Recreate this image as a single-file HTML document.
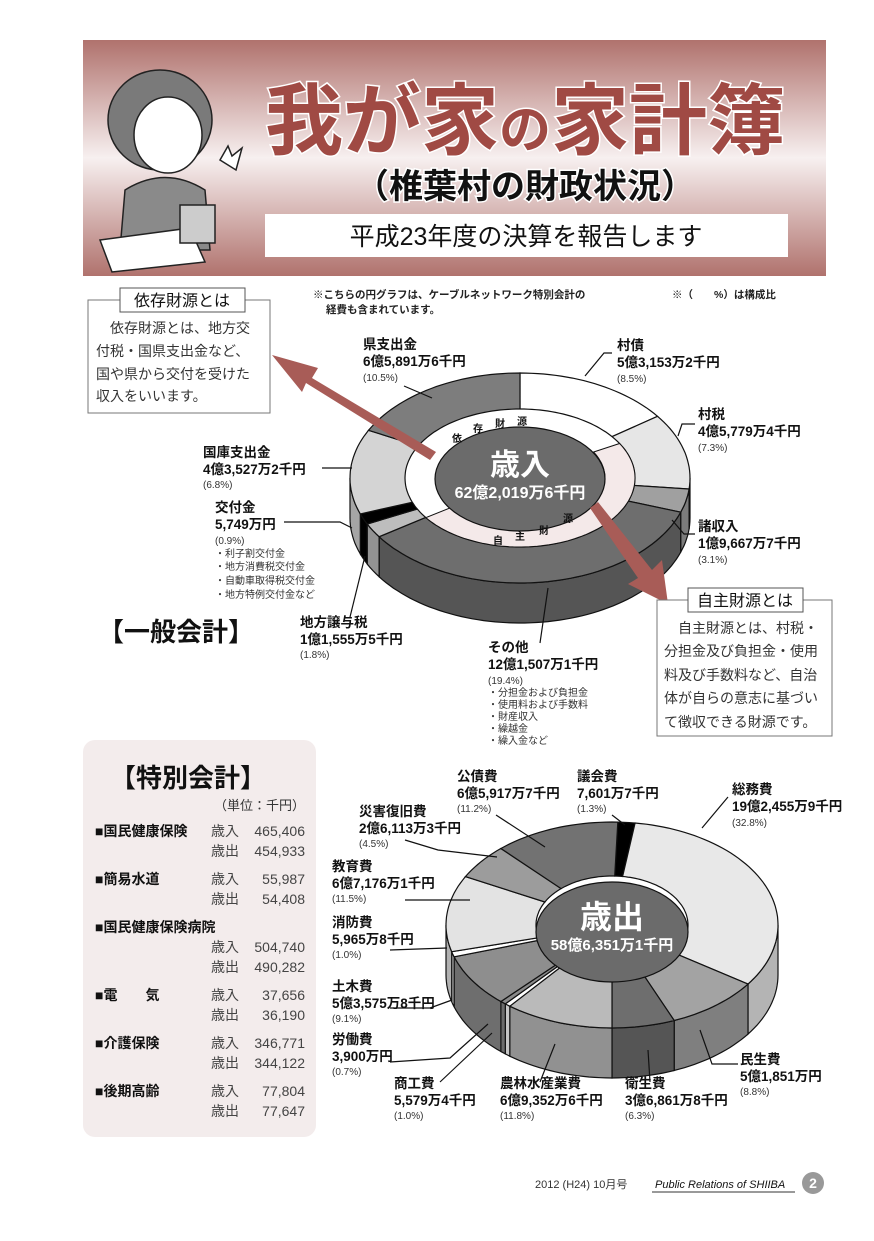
<!DOCTYPE html>
<html><head><meta charset="utf-8"><style>
html,body{margin:0;padding:0;background:#fff}
svg text{font-family:"Liberation Sans","Noto Sans CJK JP",sans-serif}
.b{font-weight:bold;font-size:13.5px;fill:#111}
.p{font-size:10px;fill:#333}
.s{font-size:10.5px;fill:#222}
.t{font-size:14px;fill:#333}
.tb{font-size:14px;fill:#111;font-weight:bold}
</style></head><body>
<svg id="sv" width="874" height="1236" viewBox="0 0 874 1236" xmlns="http://www.w3.org/2000/svg">
<defs>
<linearGradient id="hg" x1="0" y1="0" x2="0" y2="1">
<stop offset="0" stop-color="#b0726d"/><stop offset="0.5" stop-color="#f7f0f0"/><stop offset="1" stop-color="#b0726d"/>
</linearGradient>
</defs>
<!-- header -->
<rect x="83" y="40" width="743" height="236" fill="url(#hg)"/>
<g stroke="#222" stroke-width="1.5">
<ellipse cx="160" cy="120" rx="52" ry="50" fill="#7a7a7a"/>
<ellipse cx="168" cy="135" rx="34" ry="38" fill="#fff"/>
<path d="M120 250 L125 190 Q165 165 205 190 L210 250 Z" fill="#8a8a8a"/>
<path d="M100 240 L190 228 L205 262 L112 272 Z" fill="#fff"/>
<rect x="180" y="205" width="35" height="38" fill="#ccc"/>
<path d="M220 160 l8 -14 l4 10 l10 -8 l-6 22 z" fill="#fff"/>
</g>
<text x="525" y="148" text-anchor="middle" font-size="78" font-weight="bold" fill="#a04a44" stroke="#fff" stroke-width="3" paint-order="stroke">我が家<tspan font-size="52">の</tspan>家計簿</text>
<text x="525" y="198" text-anchor="middle" font-size="34" font-weight="bold" fill="#111" stroke="#fff" stroke-width="3" paint-order="stroke">（椎葉村の財政状況）</text>
<rect x="265" y="214" width="523" height="43" fill="#fff"/>
<text x="526" y="245" text-anchor="middle" font-size="25" fill="#111">平成23年度の決算を報告します</text>

<!-- notes -->
<text x="313" y="298" class="s" font-weight="bold">※こちらの円グラフは、ケーブルネットワーク特別会計の</text>
<text x="326" y="313" class="s" font-weight="bold">経費も含まれています。</text>
<text x="672" y="298" class="s" font-weight="bold">※（　　%）は構成比</text>

<!-- 依存財源とは -->
<rect x="88" y="300" width="182" height="113" fill="#fff" stroke="#777"/>
<rect x="120" y="288" width="125" height="24" fill="#fff" stroke="#555"/>
<text x="182" y="306" text-anchor="middle" font-size="16" fill="#111">依存財源とは</text>
<text x="96" y="333" class="t">　依存財源とは、地方交</text>
<text x="96" y="356" class="t">付税・国県支出金など、</text>
<text x="96" y="379" class="t">国や県から交付を受けた</text>
<text x="96" y="401" class="t">収入をいいます。</text>

<g id="pies"></g>

<!-- revenue labels -->
<g stroke="#111" stroke-width="1.2" fill="none">
<path d="M404 386 L432 398"/>
<path d="M612 353 L604 353 L585 376"/>
<path d="M695 424 L682 424 L678 436"/>
<path d="M695 534 L684 534 L672 520"/>
<path d="M322 468 L352 468"/>
<path d="M284 522 L340 522 L352 528"/>
<path d="M350 617 L365 556"/>
<path d="M540 643 L548 588"/>
</g>
<text x="363" y="349" class="b">県支出金</text><text x="363" y="366" class="b">6億5,891万6千円</text><text x="363" y="381" class="p">(10.5%)</text>
<text x="617" y="350" class="b">村債</text><text x="617" y="367" class="b">5億3,153万2千円</text><text x="617" y="382" class="p">(8.5%)</text>
<text x="698" y="419" class="b">村税</text><text x="698" y="436" class="b">4億5,779万4千円</text><text x="698" y="451" class="p">(7.3%)</text>
<text x="698" y="531" class="b">諸収入</text><text x="698" y="548" class="b">1億9,667万7千円</text><text x="698" y="563" class="p">(3.1%)</text>
<text x="203" y="457" class="b">国庫支出金</text><text x="203" y="474" class="b">4億3,527万2千円</text><text x="203" y="488" class="p">(6.8%)</text>
<text x="215" y="512" class="b">交付金</text><text x="215" y="529" class="b">5,749万円</text><text x="215" y="544" class="p">(0.9%)</text>
<text x="215" y="557" class="p">・利子割交付金</text><text x="215" y="570" class="p">・地方消費税交付金</text><text x="215" y="584" class="p">・自動車取得税交付金</text><text x="215" y="598" class="p">・地方特例交付金など</text>
<text x="300" y="627" class="b">地方譲与税</text><text x="300" y="644" class="b">1億1,555万5千円</text><text x="300" y="658" class="p">(1.8%)</text>
<text x="488" y="652" class="b">その他</text><text x="488" y="669" class="b">12億1,507万1千円</text><text x="488" y="684" class="p">(19.4%)</text>
<text x="488" y="696" class="p">・分担金および負担金</text><text x="488" y="708" class="p">・使用料および手数料</text><text x="488" y="720" class="p">・財産収入</text><text x="488" y="732" class="p">・繰越金</text><text x="488" y="744" class="p">・繰入金など</text>
<text x="98" y="641" font-size="26" font-weight="bold" fill="#111">【一般会計】</text>

<!-- 自主財源とは -->
<rect x="657" y="600" width="175" height="136" fill="#fff" stroke="#777"/>
<rect x="688" y="588" width="115" height="24" fill="#fff" stroke="#555"/>
<text x="745" y="606" text-anchor="middle" font-size="16" fill="#111">自主財源とは</text>
<text x="664" y="633" class="t">　自主財源とは、村税・</text>
<text x="664" y="656" class="t">分担金及び負担金・使用</text>
<text x="664" y="680" class="t">料及び手数料など、自治</text>
<text x="664" y="703" class="t">体が自らの意志に基づい</text>
<text x="664" y="727" class="t">て徴収できる財源です。</text>

<!-- special accounts -->
<rect x="83" y="740" width="233" height="397" rx="12" fill="#f3ecec"/>
<text x="110" y="787" font-size="26" font-weight="bold" fill="#111">【特別会計】</text>
<text x="305" y="810" text-anchor="end" font-size="13" fill="#333">（単位：千円）</text>
<text x="95" y="836" class="tb">■国民健康保険</text>
<text x="95" y="884" class="tb">■簡易水道</text>
<text x="95" y="932" class="tb">■国民健康保険病院</text>
<text x="95" y="1000" class="tb">■電　　気</text>
<text x="95" y="1048" class="tb">■介護保険</text>
<text x="95" y="1096" class="tb">■後期高齢</text>
<g id="tbl"></g>

<!-- expenditure labels -->
<g stroke="#111" stroke-width="1.2" fill="none">
<path d="M496 815 L545 847"/>
<path d="M612 815 L625 825"/>
<path d="M728 797 L702 828"/>
<path d="M405 840 L438 850 L497 857"/>
<path d="M405 900 L470 900"/>
<path d="M390 950 L447 948"/>
<path d="M390 1008 L430 1008 L452 1000"/>
<path d="M390 1062 L450 1058 L488 1024"/>
<path d="M440 1082 L492 1033"/>
<path d="M540 1082 L555 1044"/>
<path d="M650 1082 L648 1050"/>
<path d="M738 1064 L712 1064 L700 1030"/>
</g>
<text x="457" y="781" class="b">公債費</text><text x="457" y="798" class="b">6億5,917万7千円</text><text x="457" y="812" class="p">(11.2%)</text>
<text x="577" y="781" class="b">議会費</text><text x="577" y="798" class="b">7,601万7千円</text><text x="577" y="812" class="p">(1.3%)</text>
<text x="732" y="794" class="b">総務費</text><text x="732" y="811" class="b">19億2,455万9千円</text><text x="732" y="826" class="p">(32.8%)</text>
<text x="359" y="816" class="b">災害復旧費</text><text x="359" y="833" class="b">2億6,113万3千円</text><text x="359" y="847" class="p">(4.5%)</text>
<text x="332" y="871" class="b">教育費</text><text x="332" y="888" class="b">6億7,176万1千円</text><text x="332" y="902" class="p">(11.5%)</text>
<text x="332" y="927" class="b">消防費</text><text x="332" y="944" class="b">5,965万8千円</text><text x="332" y="958" class="p">(1.0%)</text>
<text x="332" y="991" class="b">土木費</text><text x="332" y="1008" class="b">5億3,575万8千円</text><text x="332" y="1022" class="p">(9.1%)</text>
<text x="332" y="1044" class="b">労働費</text><text x="332" y="1061" class="b">3,900万円</text><text x="332" y="1075" class="p">(0.7%)</text>
<text x="394" y="1088" class="b">商工費</text><text x="394" y="1105" class="b">5,579万4千円</text><text x="394" y="1119" class="p">(1.0%)</text>
<text x="500" y="1088" class="b">農林水産業費</text><text x="500" y="1105" class="b">6億9,352万6千円</text><text x="500" y="1119" class="p">(11.8%)</text>
<text x="625" y="1088" class="b">衛生費</text><text x="625" y="1105" class="b">3億6,861万8千円</text><text x="625" y="1119" class="p">(6.3%)</text>
<text x="740" y="1064" class="b">民生費</text><text x="740" y="1081" class="b">5億1,851万円</text><text x="740" y="1095" class="p">(8.8%)</text>

<!-- footer -->
<text x="535" y="1188" font-size="11" fill="#333" font-family="Liberation Serif,serif">2012 (H24) 10月号</text>
<text x="655" y="1188" font-size="11" font-style="italic" fill="#111" font-family="Liberation Serif,serif">Public Relations of  SHIIBA</text>
<line x1="652" y1="1192" x2="795" y2="1192" stroke="#333"/>
<circle cx="813" cy="1183" r="11" fill="#999"/>
<text x="813" y="1188" text-anchor="middle" font-size="14" font-weight="bold" fill="#fff">2</text>
</svg>
<script>
(function(){
var NS="http://www.w3.org/2000/svg",g=document.getElementById('pies');
function el(t,a,p){var e=document.createElementNS(NS,t);for(var k in a)e.setAttribute(k,a[k]);(p||g).appendChild(e);return e;}
function pt(cx,cy,rx,ry,t){t=t*Math.PI/180;return [cx+rx*Math.sin(t),cy-ry*Math.cos(t)];}
function arc(cx,cy,rx,ry,a,b){var s="",n=Math.max(2,Math.ceil(Math.abs(b-a)/2));for(var i=0;i<=n;i++){var p=pt(cx,cy,rx,ry,a+(b-a)*i/n);s+=(i?"L":"")+p[0].toFixed(1)+" "+p[1].toFixed(1)+" ";}return s;}
function shade(c){var v=parseInt(c.slice(1),16),r=(v>>16)*0.78|0,gg=((v>>8)&255)*0.78|0,b=(v&255)*0.78|0;return "rgb("+r+","+gg+","+b+")";}
function pie(cx,cy,rx,ry,d,sl,irx,iry){
 sl.forEach(function(s){var a=Math.max(s[0],90),b=Math.min(s[1],270);if(a<b){el('path',{d:"M"+arc(cx,cy,rx,ry,a,b)+"L"+arc(cx,cy+d,rx,ry,b,a)+"Z",fill:shade(s[2]),stroke:"#111","stroke-width":1.2});}});
 sl.forEach(function(s){el('path',{d:"M"+arc(cx,cy,rx,ry,s[0],s[1])+"L"+arc(cx,cy,irx,iry,s[1],s[0])+"Z",fill:s[2],stroke:"#111","stroke-width":1.2});});
}
pie(520,478,170,105,40,[[0,54,"#ffffff"],[54,96,"#e6e6e6"],[96,109,"#a0a0a0"],[109,236,"#6e6e6e"],[236,244,"#bdbdbd"],[244,250,"#000000"],[250,297,"#d4d4d4"],[297,360,"#7d7d7d"]],100,62);
el('path',{d:"M"+arc(520,478,115,69,0,360)+"Z",fill:"#fff",stroke:"#111","stroke-width":1.2});
el('path',{d:"M"+arc(520,478,115,69,60,235)+"L"+arc(520,478,85,52,235,60)+"Z",fill:"#f4e9e9",stroke:"#111","stroke-width":1});
el('ellipse',{cx:520,cy:479,rx:85,ry:52,fill:"#6b6b6b",stroke:"#111","stroke-width":1.2});
function tx(x,y,s,a){var e=el('text',a);e.setAttribute('x',x);e.setAttribute('y',y);e.textContent=s;return e;}
tx(520,475,"歳入",{"text-anchor":"middle","font-size":30,"font-weight":"bold",fill:"#fff"});
tx(520,498,"62億2,019万6千円",{"text-anchor":"middle","font-size":16,"font-weight":"bold",fill:"#fff"});
[["依",457,442],["存",478,432],["財",500,427],["源",522,425],["自",498,544],["主",520,540],["財",544,534],["源",568,522]].forEach(function(c){tx(c[1],c[2],c[0],{"text-anchor":"middle","font-size":10,"font-weight":"bold",fill:"#111"});});
el('path',{d:"M436 452 L312 378 L318 368 L272 355 L302 392 L306 383 L430 460 Z",fill:"#a85c57"});
el('path',{d:"M590 508 L638 578 L628 584 L668 604 L662 560 L652 570 L598 502 Z",fill:"#a85c57"});
pie(612,925,166,103,50,[[2,8,"#000000"],[8,125,"#e8e8e8"],[125,158,"#a3a3a3"],[158,180,"#6e6e6e"],[180,218,"#bababa"],[218,220,"#ffffff"],[220,222,"#8a8a8a"],[222,252,"#8e8e8e"],[252,255,"#ffffff"],[255,298,"#e3e3e3"],[298,318,"#9c9c9c"],[318,362,"#727272"]],76,49);
el('ellipse',{cx:612,cy:932,rx:76,ry:50,fill:"#6b6b6b",stroke:"#111","stroke-width":1.2});
tx(612,928,"歳出",{"text-anchor":"middle","font-size":32,"font-weight":"bold",fill:"#fff"});
tx(612,950,"58億6,351万1千円",{"text-anchor":"middle","font-size":15,"font-weight":"bold",fill:"#fff"});
var t=document.getElementById('tbl'),rows=[[836,"歳入","465,406"],[856,"歳出","454,933"],[884,"歳入","55,987"],[904,"歳出","54,408"],[952,"歳入","504,740"],[972,"歳出","490,282"],[1000,"歳入","37,656"],[1020,"歳出","36,190"],[1048,"歳入","346,771"],[1068,"歳出","344,122"],[1096,"歳入","77,804"],[1116,"歳出","77,647"]];
rows.forEach(function(r){var a=el('text',{x:211,y:r[0],"font-size":14,fill:"#444"},t);a.textContent=r[1];var b=el('text',{x:305,y:r[0],"font-size":14,fill:"#444","text-anchor":"end"},t);b.textContent=r[2];});
})();
</script>
</body></html>
